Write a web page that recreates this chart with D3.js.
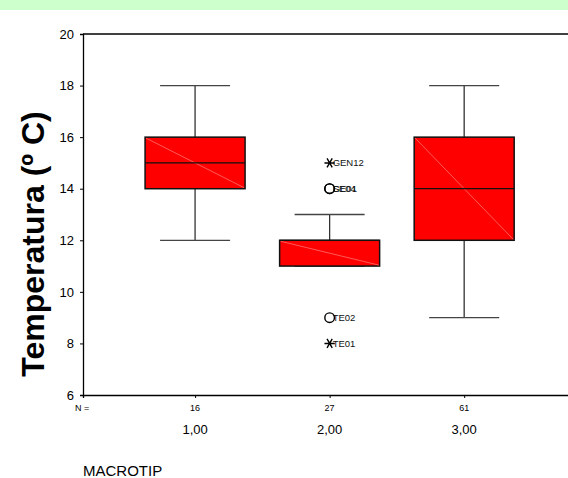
<!DOCTYPE html>
<html>
<head>
<meta charset="utf-8">
<script src="https://cdn.jsdelivr.net/npm/d3@7"></script>
<style>
  body { margin: 0; background: #fff; }
  svg { display: block; font-family: "Liberation Sans", Arial, sans-serif; }
</style>
</head>
<body>
<svg id="chart"></svg>
<script>
// box plot summaries per MACROTIP group
const categories = [1, 2, 3];
const categoryLabels = ['1,00', '2,00', '3,00'];
const counts = [16, 27, 61];
const whiskerLow = [12, 11, 9];
const q1 = [14, 11, 12];
const medians = [15, 12, 14];
const q3 = [16, 12, 16];
const whiskerHigh = [18, 13, 18];

// outliers / extremes
const outlierCat = [2, 2, 2, 2, 2];
const outlierValue = [15, 14, 14, 9, 8];
const outlierKind = ['extreme', 'outlier', 'outlier', 'outlier', 'extreme'];
const outlierLabel = ['GEN12', 'SE04', 'GE01', 'TE02', 'TE01'];

const yTicks = [6, 8, 10, 12, 14, 16, 18, 20];

const width = 568, height = 478;
const svg = d3.select('#chart').attr('width', width).attr('height', height);

// green strip on top
svg.append('rect').attr('x', 0).attr('y', 0).attr('width', width).attr('height', 10).attr('fill', '#ccffcc');

const x = d3.scaleLinear().domain([0.167, 4.5]).range([83, 666]);
const y = d3.scaleLinear().domain([6, 20]).range([395, 34]);

const plot = svg.append('g');

// frame (right side falls outside the picture)
plot.append('line').attr('x1', x(0.167)).attr('x2', width).attr('y1', y(20)).attr('y2', y(20))
  .attr('stroke', '#000').attr('stroke-width', 1.3);

const boxes = plot.selectAll('.box').data(categories).enter().append('g').attr('class', 'box');
const boxW = 100, capW = 70;

// whiskers
boxes.append('line')
  .attr('x1', d => x(d)).attr('x2', d => x(d))
  .attr('y1', (d, i) => y(whiskerHigh[i])).attr('y2', (d, i) => y(q3[i]))
  .attr('stroke', '#333').attr('stroke-width', 1.3);
boxes.append('line')
  .attr('x1', d => x(d)).attr('x2', d => x(d))
  .attr('y1', (d, i) => y(whiskerLow[i])).attr('y2', (d, i) => y(q1[i]))
  .attr('stroke', '#333').attr('stroke-width', 1.3);
boxes.append('line')
  .attr('x1', d => x(d) - capW / 2).attr('x2', d => x(d) + capW / 2)
  .attr('y1', (d, i) => y(whiskerHigh[i])).attr('y2', (d, i) => y(whiskerHigh[i]))
  .attr('stroke', '#444').attr('stroke-width', 1.3);
boxes.append('line')
  .attr('x1', d => x(d) - capW / 2).attr('x2', d => x(d) + capW / 2)
  .attr('y1', (d, i) => y(whiskerLow[i])).attr('y2', (d, i) => y(whiskerLow[i]))
  .attr('stroke', '#444').attr('stroke-width', 1.3);

// boxes
boxes.append('rect')
  .attr('x', d => x(d) - boxW / 2).attr('width', boxW)
  .attr('y', (d, i) => y(q3[i])).attr('height', (d, i) => y(q1[i]) - y(q3[i]))
  .attr('fill', '#ff0000').attr('stroke', '#111').attr('stroke-width', 1.5);
// faint diagonal
boxes.append('line')
  .attr('x1', d => x(d) - boxW / 2 + 1).attr('x2', d => x(d) + boxW / 2 - 1)
  .attr('y1', (d, i) => y(q3[i]) + 1).attr('y2', (d, i) => y(q1[i]) - 1)
  .attr('stroke', '#ff7070').attr('stroke-width', 0.8);
// medians
boxes.append('line')
  .attr('x1', d => x(d) - boxW / 2).attr('x2', d => x(d) + boxW / 2)
  .attr('y1', (d, i) => y(medians[i])).attr('y2', (d, i) => y(medians[i]))
  .attr('stroke', '#111').attr('stroke-width', 1.3);

// outliers
const outs = plot.selectAll('.out').data(outlierValue).enter().append('g').attr('class', 'out')
  .attr('transform', (d, i) => 'translate(' + x(outlierCat[i]) + ',' + y(d) + ')');
outs.filter((d, i) => outlierKind[i] === 'outlier').append('circle')
  .attr('r', 4.8).attr('fill', 'none').attr('stroke', '#000').attr('stroke-width', 1.4);
outs.filter((d, i) => outlierKind[i] === 'extreme').append('path')
  .attr('d', d3.symbol(d3.symbolAsterisk, 75))
  .attr('transform', 'rotate(90)')
  .attr('stroke', '#000').attr('stroke-width', 1.4);
outs.append('text')
  .attr('x', 3).attr('dy', '0.35em')
  .attr('font-size', 9.5).attr('fill', '#111')
  .text((d, i) => outlierLabel[i]);

// y axis
const yAxis = plot.append('g').attr('transform', 'translate(' + x(0.167) + ',0)')
  .call(d3.axisLeft(y).tickValues(yTicks).tickSize(3).tickPadding(6));
yAxis.select('.domain').attr('stroke-width', 1.3);
yAxis.selectAll('text').attr('font-size', 13).attr('font-family', '"Liberation Sans", Arial, sans-serif');

// x axis
const xAxis = plot.append('g').attr('transform', 'translate(0,' + y(6) + ')')
  .call(d3.axisBottom(x).tickValues(categories).tickSize(3).tickFormat(''));
xAxis.select('.domain').attr('stroke-width', 1.3);

// N labels
svg.append('text').attr('x', 75).attr('y', 408).attr('dy', '0.35em')
  .attr('font-size', 9).text('N =');
svg.selectAll('.n').data(counts).enter().append('text')
  .attr('x', (d, i) => x(categories[i])).attr('y', 408).attr('dy', '0.35em')
  .attr('text-anchor', 'middle').attr('font-size', 9).text(d => d);

// category labels
svg.selectAll('.cat').data(categoryLabels).enter().append('text')
  .attr('x', (d, i) => x(categories[i])).attr('y', 429).attr('dy', '0.35em')
  .attr('text-anchor', 'middle').attr('font-size', 13).text(d => d);

// axis titles
svg.append('text').attr('x', 83).attr('y', 471).attr('dy', '0.35em')
  .attr('font-size', 15).text('MACROTIP');
svg.append('text')
  .attr('transform', 'translate(44,244) rotate(-90)')
  .attr('text-anchor', 'middle').attr('font-size', 32).attr('font-weight', 'bold')
  .text('Temperatura (º C)');
</script>
</body>
</html>
